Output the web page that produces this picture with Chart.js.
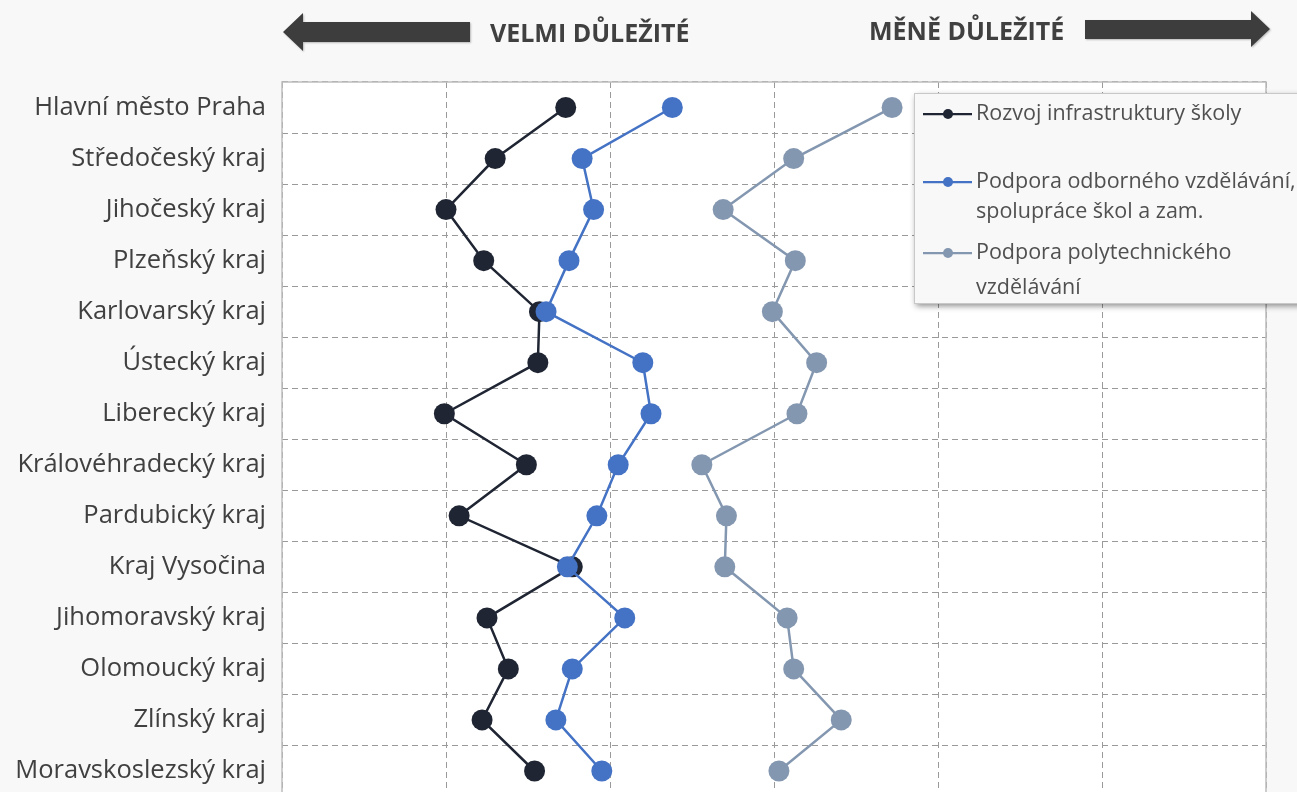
<!DOCTYPE html>
<html>
<head>
<meta charset="utf-8">
<script src="https://cdn.jsdelivr.net/npm/chart.js@4"></script>
<style>
html,body{margin:0;padding:0;background:#f8f8f8;overflow:hidden;}
#wrap{position:relative;width:1297px;height:807px;}
canvas{display:block;}
</style>
</head>
<body>
<div id="wrap"><canvas id="c" width="1297" height="807"></canvas></div>
<script>
const categories = ["Hlavní město Praha","Středočeský kraj","Jihočeský kraj","Plzeňský kraj","Karlovarský kraj","Ústecký kraj","Liberecký kraj","Královéhradecký kraj","Pardubický kraj","Kraj Vysočina","Jihomoravský kraj","Olomoucký kraj","Zlínský kraj","Moravskoslezský kraj"];
const infrastruktura = [1.73,1.30,1.00,1.23,1.57,1.56,0.99,1.49,1.08,1.77,1.25,1.38,1.22,1.54];
const odborne = [2.38,1.83,1.90,1.75,1.61,2.20,2.25,2.05,1.92,1.74,2.09,1.77,1.67,1.95];
const polytechnicke = [3.72,3.12,2.69,3.13,2.99,3.26,3.14,2.56,2.71,2.70,3.08,3.12,3.41,3.03];
const seriesNames = [["Rozvoj infrastruktury školy"],["Podpora odborného vzdělávání,","spolupráce škol a zam."],["Podpora polytechnického","vzdělávání"]];
const seriesColors = ["#1f2533","#4472c4","#8497b0"];
const headings = ["VELMI DŮLEŽITÉ","MĚNĚ DŮLEŽITÉ"];
const xMin = 0, xMax = 6, xStep = 1;

const FONT = '"Open Sans", "Noto Sans", sans-serif';

const decor = {
  id: 'decor',
  beforeDraw(chart){
    const {ctx, chartArea:a} = chart;
    ctx.save();
    ctx.fillStyle = '#ffffff';
    ctx.fillRect(a.left, a.top, a.right-a.left, a.bottom-a.top);
    ctx.restore();
  },
  beforeDatasetsDraw(chart){
    const {ctx, chartArea:a} = chart;
    ctx.save();
    ctx.strokeStyle = '#bdbdbd';
    ctx.lineWidth = 1.5;
    ctx.strokeRect(a.left, a.top, a.right-a.left, a.bottom-a.top);
    ctx.restore();
  },
  afterDraw(chart){
    const {ctx} = chart;
    ctx.save();
    // arrows
    ctx.fillStyle = '#3d3d3d';
    ctx.shadowColor = 'rgba(0,0,0,0.25)';
    ctx.shadowBlur = 2; ctx.shadowOffsetX = 1; ctx.shadowOffsetY = 1;
    ctx.beginPath();
    ctx.moveTo(283,32); ctx.lineTo(303,13); ctx.lineTo(303,22); ctx.lineTo(470,22);
    ctx.lineTo(470,42); ctx.lineTo(303,42); ctx.lineTo(303,51); ctx.closePath(); ctx.fill();
    ctx.beginPath();
    ctx.moveTo(1270,29); ctx.lineTo(1251,11); ctx.lineTo(1251,20); ctx.lineTo(1085,20);
    ctx.lineTo(1085,39); ctx.lineTo(1251,39); ctx.lineTo(1251,47); ctx.closePath(); ctx.fill();
    ctx.shadowColor = 'transparent';
    // headings
    ctx.fillStyle = '#404040';
    ctx.font = 'bold 25px ' + FONT;
    ctx.textBaseline = 'middle';
    ctx.textAlign = 'left';
    ctx.fillText(headings[0], 490, 35);
    ctx.fillText(headings[1], 869, 33);
    // legend box
    ctx.shadowColor = 'rgba(0,0,0,0.45)';
    ctx.shadowBlur = 6; ctx.shadowOffsetX = 2; ctx.shadowOffsetY = 3;
    ctx.fillStyle = '#f8f8f8';
    ctx.fillRect(914, 93, 400, 210);
    ctx.shadowColor = 'transparent';
    ctx.strokeStyle = '#c8c8c8';
    ctx.lineWidth = 1;
    ctx.strokeRect(914.5, 93.5, 400, 210);
    const rows = [[114],[182,212],[253,288]];
    ctx.font = '21.5px ' + FONT;
    chart.data.datasets.forEach((ds, i) => {
      const y = rows[i][0];
      ctx.strokeStyle = ds.borderColor; ctx.lineWidth = 2.25;
      ctx.beginPath(); ctx.moveTo(923, y); ctx.lineTo(972, y); ctx.stroke();
      ctx.fillStyle = ds.pointBackgroundColor;
      ctx.beginPath(); ctx.arc(948, y, 5, 0, Math.PI*2); ctx.fill();
      ctx.fillStyle = '#505050';
      seriesNames[i].forEach((t, j) => ctx.fillText(t, 976, rows[i][j]));
    });
    ctx.restore();
  }
};

function mk(label, data, color, order){
  return {label, data, borderColor: color, backgroundColor: color, pointBackgroundColor: color,
    pointBorderColor: color, pointRadius: 10.5, pointHoverRadius: 10.5, pointBorderWidth: 0,
    borderWidth: 2.5, tension: 0, order};
}

new Chart(document.getElementById('c'), {
  type: 'line',
  data: {
    labels: categories,
    datasets: [
      mk(seriesNames[0].join(' '), infrastruktura, seriesColors[0], 1),
      mk(seriesNames[1].join(' '), odborne, seriesColors[1], 0),
      mk(seriesNames[2].join(' '), polytechnicke, seriesColors[2], 2)
    ]
  },
  options: {
    indexAxis: 'y',
    responsive: false,
    animation: false,
    devicePixelRatio: 1,
    layout: {padding: {top: 82, right: 31, bottom: 4.5, left: 0}},
    plugins: {legend: {display: false}, tooltip: {enabled: false}},
    scales: {
      x: {type: 'linear', position: 'bottom', min: xMin, max: xMax,
        afterFit(s){ s.height = 0; s.paddingLeft = 0; s.paddingRight = 0; },
        ticks: {display: false, stepSize: xStep},
        grid: {color: '#9a9a9a', lineWidth: 1, drawTicks: false},
        border: {display: false, dash: [6,4]}},
      y: {type: 'category', offset: true,
        afterFit(s){ s.width = 282; s.paddingTop = 0; s.paddingBottom = 0; },
        ticks: {color: '#404040', font: {family: FONT, size: 25.5}, padding: 16},
        grid: {offset: true, color: '#9a9a9a', lineWidth: 1, drawTicks: false},
        border: {display: false, dash: [6,4]}}
    }
  },
  plugins: [decor]
});
</script>
</body>
</html>
